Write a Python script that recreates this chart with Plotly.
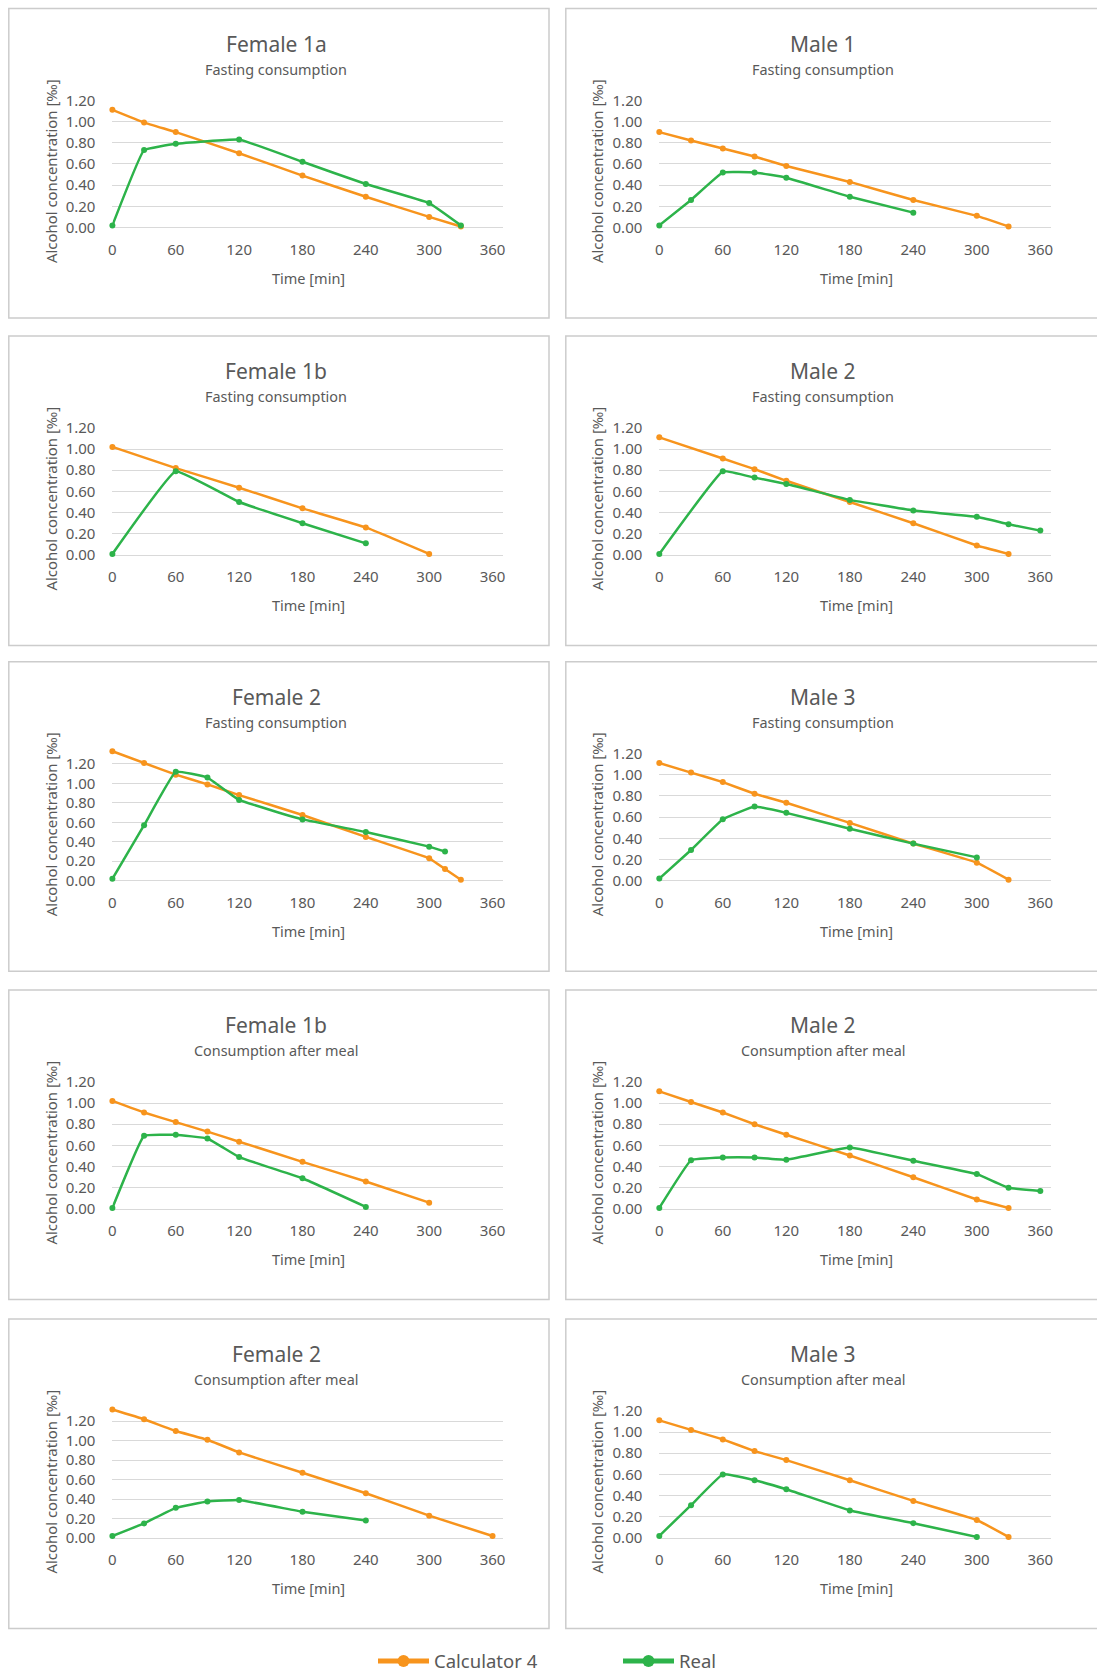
import plotly.graph_objects as go

W, H = 1097, 1674
FONT = "Noto Sans"
TXT = "#595959"
GRID = "#d9d9d9"
BOX = "#cccccc"
ORANGE = "#F7941D"
GREEN = "#2DB34A"

# ---------------- data ----------------
series_names = ["Calculator 4", "Real"]
x_ticks = [0, 60, 120, 180, 240, 300, 360]
y_ticks = [0.0, 0.2, 0.4, 0.6, 0.8, 1.0, 1.2]

f1a_calc_t = [0, 30, 60, 120, 180, 240, 300, 330]
f1a_calc_v = [1.11, 0.99, 0.90, 0.70, 0.49, 0.29, 0.10, 0.01]
f1a_real_t = [0, 30, 60, 120, 180, 240, 300, 330]
f1a_real_v = [0.02, 0.73, 0.79, 0.83, 0.62, 0.41, 0.23, 0.02]

m1_calc_t = [0, 30, 60, 90, 120, 180, 240, 300, 330]
m1_calc_v = [0.90, 0.82, 0.745, 0.67, 0.58, 0.43, 0.26, 0.11, 0.01]
m1_real_t = [0, 30, 60, 90, 120, 180, 240]
m1_real_v = [0.02, 0.26, 0.52, 0.52, 0.47, 0.29, 0.14]

f1b_calc_t = [0, 60, 120, 180, 240, 300]
f1b_calc_v = [1.02, 0.82, 0.635, 0.44, 0.26, 0.01]
f1b_real_t = [0, 60, 120, 180, 240]
f1b_real_v = [0.01, 0.79, 0.50, 0.30, 0.11]

m2_calc_t = [0, 60, 90, 120, 180, 240, 300, 330]
m2_calc_v = [1.11, 0.91, 0.81, 0.70, 0.50, 0.30, 0.09, 0.01]
m2_real_t = [0, 60, 90, 120, 180, 240, 300, 330, 360]
m2_real_v = [0.01, 0.79, 0.73, 0.67, 0.52, 0.42, 0.36, 0.29, 0.23]

f2_calc_t = [0, 30, 60, 90, 120, 180, 240, 300, 315, 330]
f2_calc_v = [1.33, 1.21, 1.09, 0.99, 0.88, 0.675, 0.45, 0.23, 0.12, 0.01]
f2_real_t = [0, 30, 60, 90, 120, 180, 240, 300, 315]
f2_real_v = [0.02, 0.57, 1.12, 1.06, 0.83, 0.63, 0.50, 0.35, 0.30]

m3_calc_t = [0, 30, 60, 90, 120, 180, 240, 300, 330]
m3_calc_v = [1.11, 1.02, 0.93, 0.82, 0.735, 0.545, 0.35, 0.17, 0.01]
m3_real_t = [0, 30, 60, 90, 120, 180, 240, 300]
m3_real_v = [0.02, 0.29, 0.58, 0.70, 0.64, 0.49, 0.35, 0.22]

f1b_meal_calc_t = [0, 30, 60, 90, 120, 180, 240, 300]
f1b_meal_calc_v = [1.02, 0.91, 0.82, 0.73, 0.635, 0.445, 0.26, 0.06]
f1b_meal_real_t = [0, 30, 60, 90, 120, 180, 240]
f1b_meal_real_v = [0.01, 0.69, 0.70, 0.665, 0.49, 0.29, 0.02]

m2_meal_calc_t = [0, 30, 60, 90, 120, 180, 240, 300, 330]
m2_meal_calc_v = [1.11, 1.01, 0.91, 0.80, 0.70, 0.505, 0.30, 0.09, 0.01]
m2_meal_real_t = [0, 30, 60, 90, 120, 180, 240, 300, 330, 360]
m2_meal_real_v = [0.01, 0.46, 0.485, 0.485, 0.465, 0.58, 0.455, 0.33, 0.20, 0.17]

f2_meal_calc_t = [0, 30, 60, 90, 120, 180, 240, 300, 360]
f2_meal_calc_v = [1.32, 1.22, 1.10, 1.01, 0.88, 0.67, 0.46, 0.23, 0.02]
f2_meal_real_t = [0, 30, 60, 90, 120, 180, 240]
f2_meal_real_v = [0.02, 0.15, 0.31, 0.375, 0.39, 0.27, 0.18]

m3_meal_calc_t = [0, 30, 60, 90, 120, 180, 240, 300, 330]
m3_meal_calc_v = [1.11, 1.02, 0.93, 0.82, 0.735, 0.545, 0.35, 0.17, 0.01]
m3_meal_real_t = [0, 30, 60, 90, 120, 180, 240, 300]
m3_meal_real_v = [0.02, 0.31, 0.60, 0.545, 0.46, 0.26, 0.14, 0.01]

titles = ["Female 1a", "Male 1", "Female 1b", "Male 2", "Female 2", "Male 3",
          "Female 1b", "Male 2", "Female 2", "Male 3"]
subtitles = ["Fasting consumption"] * 6 + ["Consumption after meal"] * 4
y_max = [1.2, 1.2, 1.2, 1.2, 1.35, 1.2, 1.2, 1.2, 1.35, 1.2]
calc_t = [f1a_calc_t, m1_calc_t, f1b_calc_t, m2_calc_t, f2_calc_t, m3_calc_t,
          f1b_meal_calc_t, m2_meal_calc_t, f2_meal_calc_t, m3_meal_calc_t]
calc_v = [f1a_calc_v, m1_calc_v, f1b_calc_v, m2_calc_v, f2_calc_v, m3_calc_v,
          f1b_meal_calc_v, m2_meal_calc_v, f2_meal_calc_v, m3_meal_calc_v]
real_t = [f1a_real_t, m1_real_t, f1b_real_t, m2_real_t, f2_real_t, m3_real_t,
          f1b_meal_real_t, m2_meal_real_t, f2_meal_real_t, m3_meal_real_t]
real_v = [f1a_real_v, m1_real_v, f1b_real_v, m2_real_v, f2_real_v, m3_real_v,
          f1b_meal_real_v, m2_meal_real_v, f2_meal_real_v, m3_meal_real_v]

# ---------------- geometry (pixels) ----------------
zero_y = [227.5, 555.0, 880.7, 1209.0, 1538.0]
PX_PER_UNIT = {1.2: 106.0, 1.35: 97.3}
col_x0 = [112.4, 659.3]
col_x1 = [503.1, 1050.9]
col_box = [(8.8, 549.0), (565.8, 1105.0)]
col_center = [276.0, 823.0]
col_xtitle = [308.0, 856.0]
col_ytitle = [50.5, 596.5]
X_MAX = 370


def fx(px):
    return px / W


def fy(py):
    return 1 - py / H


fig = go.Figure()
annotations = []
shapes = []

for i in range(10):
    r, c = divmod(i, 2)
    Z = zero_y[r]
    top = Z - PX_PER_UNIT[y_max[i]] * y_max[i]
    ax = "" if i == 0 else str(i + 1)
    xa, ya = "x" + ax, "y" + ax

    fig.add_trace(go.Scatter(
        x=calc_t[i], y=calc_v[i], name=series_names[0], mode="lines+markers",
        line=dict(color=ORANGE, width=2.5, shape="spline", smoothing=0.25),
        marker=dict(color=ORANGE, size=6), cliponaxis=False,
        showlegend=(i == 0), legendgroup="calc", xaxis=xa, yaxis=ya))
    fig.add_trace(go.Scatter(
        x=real_t[i], y=real_v[i], name=series_names[1], mode="lines+markers",
        line=dict(color=GREEN, width=2.5, shape="spline", smoothing=0.25),
        marker=dict(color=GREEN, size=6), cliponaxis=False,
        showlegend=(i == 0), legendgroup="real", xaxis=xa, yaxis=ya))

    fig.layout["xaxis" + ax] = dict(
        domain=[fx(col_x0[c]), fx(col_x1[c])], anchor=ya,
        range=[0, X_MAX], tickvals=x_ticks, ticks="", showgrid=False,
        zeroline=False, showline=False, ticklabelstandoff=11,
        tickfont=dict(family=FONT, size=15, color=TXT), fixedrange=True)
    fig.layout["yaxis" + ax] = dict(
        domain=[fy(Z), fy(top)], anchor=xa,
        range=[0, y_max[i]], tickvals=y_ticks, tickformat=".2f", ticks="",
        showgrid=True, gridcolor=GRID, gridwidth=1.3, zeroline=True,
        zerolinecolor=GRID, zerolinewidth=1.3, showline=False,
        ticklabelstandoff=16,
        tickfont=dict(family=FONT, size=15, color=TXT), fixedrange=True)

    # panel frame
    shapes.append(dict(type="rect", xref="paper", yref="paper",
                       x0=fx(col_box[c][0]), x1=fx(col_box[c][1]),
                       y0=fy(Z + 90.5), y1=fy(Z - 219.0),
                       line=dict(color=BOX, width=1.5), layer="below"))
    # titles
    annotations.append(dict(text=titles[i], xref="paper", yref="paper",
                            x=fx(col_center[c]), y=fy(Z - 184.0),
                            xanchor="center", yanchor="middle", showarrow=False,
                            font=dict(family=FONT, size=21, color=TXT)))
    annotations.append(dict(text=subtitles[i], xref="paper", yref="paper",
                            x=fx(col_center[c]), y=fy(Z - 158.5),
                            xanchor="center", yanchor="middle", showarrow=False,
                            font=dict(family=FONT, size=14.4, color=TXT)))
    annotations.append(dict(text="Time [min]", xref="paper", yref="paper",
                            x=fx(col_xtitle[c]), y=fy(Z + 50.0),
                            xanchor="center", yanchor="middle", showarrow=False,
                            font=dict(family=FONT, size=14.5, color=TXT)))
    annotations.append(dict(text="Alcohol concentration [‰]", xref="paper",
                            yref="paper", x=fx(col_ytitle[c]), y=fy(Z - 56.0),
                            xanchor="center", yanchor="middle", textangle=-90,
                            showarrow=False,
                            font=dict(family=FONT, size=14.9, color=TXT)))

fig.update_layout(
    width=W, height=H, margin=dict(l=0, r=0, t=0, b=0, autoexpand=False),
    paper_bgcolor="white", plot_bgcolor="white",
    annotations=annotations, shapes=shapes,
    legend=dict(orientation="h", xref="container", yref="container",
                x=fx(373), y=fy(1661.5), xanchor="left",
                yanchor="middle", itemsizing="constant", entrywidth=179,
                entrywidthmode="pixels", itemwidth=51,
                font=dict(family=FONT, size=18.5, color=TXT),
                bgcolor="rgba(0,0,0,0)"),
)

fig.write_html("out.html", config={"displayModeBar": False},
               post_script="document.body.style.margin='0';"
                           "document.body.style.overflow='hidden';")
